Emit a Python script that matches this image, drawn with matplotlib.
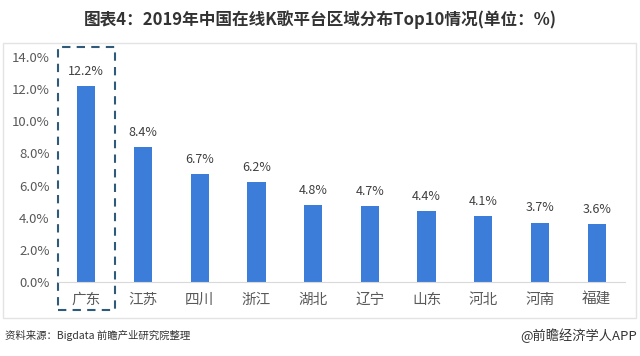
import matplotlib.pyplot as plt
from matplotlib.patches import Rectangle
import numpy as np

plt.rcParams['font.family'] = ['Noto Sans CJK SC', 'DejaVu Sans']

regions = ['广东', '江苏', '四川', '浙江', '湖北', '辽宁', '山东', '河北', '河南', '福建']
shares = [12.2, 8.4, 6.7, 6.2, 4.8, 4.7, 4.4, 4.1, 3.7, 3.6]
yticks = [0, 2, 4, 6, 8, 10, 12, 14]

fig = plt.figure(figsize=(6.4, 3.56), dpi=100)
ax = fig.add_axes([0.0906, 0.2079, 0.8860, 0.6320])

x = np.arange(len(regions))
ax.bar(x, shares, width=0.32, color='#3b7dd8')
for xi, v in zip(x, shares):
    ax.text(xi, v + 0.5, f'{v:.1f}%', ha='center', va='bottom', fontsize=9, color='#404040')

ax.set_xlim(-0.5, len(regions) - 0.5)
ax.set_ylim(0, 14)
ax.set_yticks(yticks)
ax.set_yticklabels([f'{t:.1f}%' for t in yticks], fontsize=9.5, color='#595959')
ax.set_xticks(x)
ax.set_xticklabels(regions, fontsize=10.5, color='#595959')
ax.tick_params(length=0)
ax.tick_params(axis='y', pad=6)
ax.tick_params(axis='x', pad=8)
for s in ['top', 'right', 'left']:
    ax.spines[s].set_visible(False)
ax.spines['bottom'].set_color('#d9d9d9')

# dashed highlight round the first bar
ax.add_patch(Rectangle((-0.5, -1.74), 1.0, 16.36, fill=False, ls=(0, (4, 3)),
                       lw=1.5, ec='#2f5a7a', clip_on=False))

# light frame of the chart panel
fig.add_artist(Rectangle((0.004, 0.107), 0.99, 0.772, transform=fig.transFigure,
                         fill=False, ec='#e3e3e3', lw=1))

fig.text(0.5, 0.944, '图表4：2019年中国在线K歌平台区域分布Top10情况(单位：%)',
         ha='center', va='center', fontsize=12, fontweight='bold', color='#333333')
fig.text(0.008, 0.057, '资料来源：Bigdata 前瞻产业研究院整理', ha='left', va='center',
         fontsize=7.5, color='#333333')
fig.text(0.995, 0.057, '@前瞻经济学人APP', ha='right', va='center',
         fontsize=9.5, color='#333333')

fig.savefig('out.png', dpi=100)
